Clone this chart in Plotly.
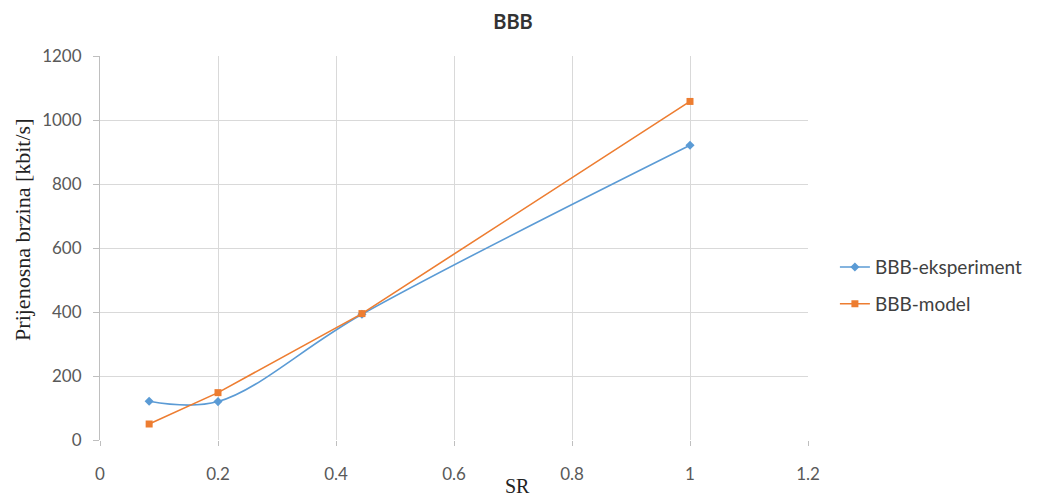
import plotly.graph_objects as go

sr = [0.0833, 0.2, 0.444, 1.0]
eksperiment = [121, 120, 393, 921]
model = [50, 148, 395, 1058]

fig = go.Figure()
fig.add_trace(go.Scatter(
    x=sr, y=eksperiment, name="BBB-eksperiment", mode="lines+markers", legendgroup="a",
    line=dict(color="#5B9BD5", width=1.6, shape="spline", smoothing=1.0),
    marker=dict(symbol="diamond", size=7, color="#5B9BD5")))
fig.add_trace(go.Scatter(
    x=sr, y=model, name="BBB-model", mode="lines+markers", legendgroup="b",
    line=dict(color="#ED7D31", width=1.6),
    marker=dict(symbol="square", size=7, color="#ED7D31")))

serif = "Liberation Serif, Times New Roman, serif"
fig.update_layout(
    width=1037, height=499,
    paper_bgcolor="white", plot_bgcolor="white",
    margin=dict(l=92, r=237, t=48, b=67),
    title=dict(text="<b>BBB</b>", x=0.487, xanchor="center", xref="container",
               y=0.972, yanchor="middle",
               font=dict(family="Lato, Open Sans, sans-serif", size=20, color="#333")),
    font=dict(family="Lato, Open Sans, sans-serif", size=17, color="#595959"),
    legend=dict(x=1.038, y=0.402, xanchor="left", yanchor="middle",
                font=dict(size=19, color="#404040"), tracegroupgap=9,
                itemwidth=30),
    xaxis=dict(range=[0, 1.2], dtick=0.2, showgrid=True, gridcolor="#D9D9D9", gridwidth=1.3,
               zeroline=False, showline=False, ticks="outside", ticklen=5, tickcolor="#BFBFBF",
               ticklabelstandoff=14,
               tickfont=dict(size=17, color="#595959"), tickformat="~g"),
    yaxis=dict(range=[0, 1200], dtick=200, showgrid=True, gridcolor="#D9D9D9", gridwidth=1.3,
               zeroline=False, showline=True, linecolor="#BFBFBF", ticks="outside", ticklen=6,
               tickcolor="#BFBFBF", ticklabelstandoff=8, tickfont=dict(size=17, color="#595959")),
    annotations=[
        dict(text="SR", xref="paper", yref="paper", x=0.589, y=-0.121, xanchor="center",
             yanchor="middle", showarrow=False, font=dict(family=serif, size=20, color="#222")),
        dict(text="Prijenosna brzina [kbit/s]", xref="paper", yref="paper", x=-0.1088, y=0.547,
             xanchor="center", yanchor="middle", textangle=-90, showarrow=False,
             font=dict(family=serif, size=22, color="#222")),
    ],
)
fig.write_html("out.html")
